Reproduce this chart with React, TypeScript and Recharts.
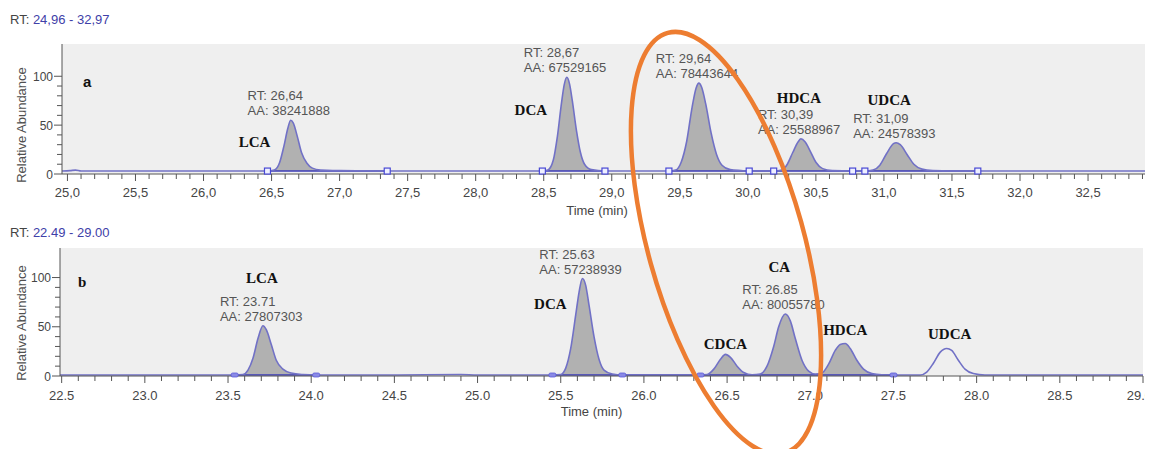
import { ComposedChart, Area, Line, XAxis, YAxis, CartesianGrid, ReferenceDot } from "recharts";

// Run a: RT window 24,96 - 32,97 min
const rtRangeA: [number, number] = [24.96, 32.97];
const traceA: [number, number][] = [
  [24.96, 3], [25.02, 3.5], [25.06, 4], [25.1, 3], [25.5, 3], [26.0, 3], [26.47, 3],
  [26.52, 4], [26.56, 12], [26.59, 28], [26.62, 47], [26.64, 55], [26.66, 52], [26.69, 38],
  [26.72, 22], [26.76, 11], [26.8, 6], [26.86, 4], [26.95, 3.5], [27.0, 3.5], [27.35, 3],
  [27.8, 3], [28.2, 3], [28.49, 3],
  [28.53, 4], [28.57, 14], [28.6, 38], [28.63, 72], [28.65, 91], [28.67, 99], [28.69, 92],
  [28.71, 75], [28.74, 45], [28.77, 22], [28.8, 10], [28.85, 4.5], [28.95, 3],
  [29.2, 3], [29.42, 3],
  [29.47, 4], [29.51, 12], [29.55, 33], [29.59, 68], [29.62, 88], [29.64, 93], [29.66, 89],
  [29.69, 72], [29.73, 42], [29.77, 20], [29.81, 9], [29.87, 4.5], [29.95, 3.5], [30.01, 3],
  [30.19, 3],
  [30.25, 4], [30.29, 10], [30.33, 22], [30.37, 33], [30.39, 36], [30.42, 33], [30.46, 23],
  [30.5, 12], [30.55, 5.5], [30.62, 3.5], [30.77, 3],
  [30.86, 3],
  [30.92, 4], [30.97, 9], [31.02, 21], [31.07, 31], [31.09, 32], [31.12, 30], [31.17, 20],
  [31.22, 10], [31.28, 5], [31.36, 3.5], [31.5, 3], [31.69, 3],
  [32.2, 3], [32.97, 3],
];
const integrationA: [number, number][] = [
  [26.47, 27.35], [28.49, 28.95], [29.42, 30.01], [30.19, 30.77], [30.86, 31.69],
];
const peakInfoA = [
  { rt: 26.64, aa: "38241888" },
  { rt: 28.67, aa: "67529165" },
  { rt: 29.64, aa: "78443644" },
  { rt: 30.39, aa: "25588967" },
  { rt: 31.09, aa: "24578393" },
];
const compoundsA = [
  { name: "LCA", rt: 26.64 },
  { name: "DCA", rt: 28.67 },
  { name: "HDCA", rt: 30.39 },
  { name: "UDCA", rt: 31.09 },
];
const timeTicksA = [25.0, 25.5, 26.0, 26.5, 27.0, 27.5, 28.0, 28.5, 29.0, 29.5, 30.0, 30.5, 31.0, 31.5, 32.0, 32.5];

// Run b: RT window 22.49 - 29.00 min
const rtRangeB: [number, number] = [22.49, 29.0];
const traceB: [number, number][] = [
  [22.49, 1], [23.0, 1], [23.54, 1],
  [23.59, 1.5], [23.62, 6], [23.65, 18], [23.68, 38], [23.71, 51], [23.73, 47], [23.76, 32],
  [23.79, 16], [23.83, 7], [23.88, 3], [23.95, 1.5], [24.03, 1],
  [24.5, 1], [24.9, 1.5], [25.0, 1], [25.45, 1],
  [25.5, 1.5], [25.53, 8], [25.56, 28], [25.59, 62], [25.61, 85], [25.63, 99], [25.65, 92],
  [25.67, 72], [25.7, 40], [25.73, 17], [25.76, 6], [25.81, 2], [25.87, 1],
  [26.34, 1],
  [26.38, 1.5], [26.42, 7], [26.46, 17], [26.49, 22], [26.52, 19], [26.56, 10], [26.6, 3.5], [26.65, 1.2],
  [26.7, 2], [26.74, 10], [26.78, 30], [26.81, 50], [26.85, 63], [26.88, 56], [26.91, 38],
  [26.95, 16], [26.99, 5], [27.03, 2],
  [27.07, 3], [27.11, 12], [27.15, 26], [27.18, 32], [27.21, 33], [27.24, 28], [27.28, 16],
  [27.32, 7], [27.37, 2.5], [27.43, 1.2], [27.5, 1],
  [27.66, 1], [27.7, 4], [27.74, 13], [27.78, 24], [27.82, 28], [27.85, 26], [27.89, 16],
  [27.93, 7], [27.98, 2.5], [28.05, 1],
  [28.5, 1], [29.0, 1],
];
const integrationB: [number, number][] = [[23.54, 24.03], [25.45, 25.87], [26.34, 27.5]];
const peakInfoB = [
  { rt: 23.71, aa: "27807303" },
  { rt: 25.63, aa: "57238939" },
  { rt: 26.85, aa: "80055780" },
];
const compoundsB = [
  { name: "LCA", rt: 23.71 },
  { name: "DCA", rt: 25.63 },
  { name: "CDCA", rt: 26.49 },
  { name: "CA", rt: 26.85 },
  { name: "HDCA", rt: 27.21 },
  { name: "UDCA", rt: 27.82 },
];
const timeTicksB = [22.5, 23.0, 23.5, 24.0, 24.5, 25.0, 25.5, 26.0, 26.5, 27.0, 27.5, 28.0, 28.5, 29.0];

const abundanceTicks = [0, 10, 20, 30, 40, 50, 60, 70, 80, 90, 100];
const abundanceLabels = [0, 50, 100];

const TRACE = "#7171c6";
const BASE = "#3c3cb8";
const PEAK_FILL = "#b1b1b1";
const PLOT_BG = "#efefef";
const SANS = '"Liberation Sans", Arial, sans-serif';
const SERIF = '"Liberation Serif", "Times New Roman", serif';
const WIDTH = 1153;

const fmt = (v: number, sep: string, digits: number) => v.toFixed(digits).replace(".", sep);

function minorTicks(from: number, to: number) {
  const out: number[] = [];
  for (let i = Math.round(from * 10); i <= Math.round(to * 10); i++) out.push(i / 10);
  return out;
}

const near = (a: number, b: number) => Math.abs(a - b) < 1e-6;

type PanelProps = {
  trace: [number, number][];
  integration: [number, number][];
  peakInfo: { rt: number; aa: string }[];
  compounds: { name: string; rt: number }[];
  majorTicks: number[];
  rtRange: [number, number];
  sep: string;
  baseline: number;
  yMax: number;
  height: number;
  margin: { top: number; right: number; bottom: number; left: number };
  axisWidth: number;
  nameOffsets: Record<string, [number, number]>;
  yLabelShift: number;
  xLabelDrop: number;
  xTickDrop: number;
  solidMarkers?: boolean;
};

function Chromatogram(p: PanelProps) {
  const inRange = (t: number) => p.integration.some(([s, e]) => t >= s - 1e-9 && t <= e + 1e-9);
  const rows = p.trace.map(([t, v]) => ({
    t,
    v,
    fill: inRange(t) ? v : null,
    base: inRange(t) ? p.baseline : null,
  }));
  const apex = (rt: number) => p.trace.find(([t]) => near(t, rt))?.[1] ?? 0;
  const markers = p.integration.flat();
  const xTicks = minorTicks(p.majorTicks[0], p.rtRange[1]);

  const XTick = (props: any) => {
    const { x, y, payload } = props;
    const major = p.majorTicks.some((m) => near(m, payload.value));
    // keep the last label inside the canvas
    const atEdge = x + 12 > WIDTH;
    return (
      <g>
        <line x1={x} x2={x} y1={y} y2={y + (major ? 7 : 5)} stroke="#555" strokeWidth={1} />
        {major && (
          <text
            x={atEdge ? WIDTH - 1 : x}
            y={y + p.xTickDrop}
            textAnchor={atEdge ? "end" : "middle"}
            fontSize={13}
            fontFamily={SANS}
            fill="#454545"
          >
            {fmt(payload.value, p.sep, 1)}
          </text>
        )}
      </g>
    );
  };

  const YTick = (props: any) => {
    const { x, y, payload } = props;
    const major = abundanceLabels.includes(payload.value);
    return (
      <g>
        <line x1={x - (major ? 8 : 5)} x2={x} y1={y} y2={y} stroke="#555" strokeWidth={1} />
        {major && (
          <text x={x - 9} y={y + 4.5} textAnchor="end" fontSize={12} fontFamily={SANS} fill="#454545">
            {payload.value}
          </text>
        )}
      </g>
    );
  };

  return (
    <ComposedChart width={WIDTH} height={p.height} data={rows} margin={p.margin}>
      <CartesianGrid fill={PLOT_BG} stroke="none" horizontal={false} vertical={false} />
      <XAxis
        type="number"
        dataKey="t"
        domain={p.rtRange}
        allowDataOverflow
        ticks={xTicks}
        interval={0}
        tickSize={0}
        tickMargin={0}
        tickLine={false}
        tick={XTick}
        height={40}
        axisLine={{ stroke: "#555" }}
        label={{
          content: (lp: any) => {
            const vb = lp.viewBox;
            return (
              <text x={vb.x + vb.width / 2 - 10} y={vb.y + p.xLabelDrop} textAnchor="middle" fontSize={13} fontFamily={SANS} fill="#454545">
                Time (min)
              </text>
            );
          },
        }}
      />
      <YAxis
        type="number"
        domain={[0, p.yMax]}
        allowDataOverflow
        ticks={abundanceTicks}
        interval={0}
        tickSize={0}
        tickMargin={0}
        tickLine={false}
        tick={YTick}
        width={p.axisWidth}
        axisLine={{ stroke: "#555" }}
        label={{
          content: (lp: any) => {
            const vb = lp.viewBox;
            const cx = 21;
            const cy = vb.y + vb.height / 2 + p.yLabelShift;
            return (
              <text x={cx} y={cy} transform={`rotate(-90 ${cx} ${cy})`} textAnchor="middle" dominantBaseline="central" fontSize={13} fontFamily={SANS} fill="#505050">
                Relative Abundance
              </text>
            );
          },
        }}
      />
      <Area
        dataKey="fill"
        type="monotone"
        baseValue={p.baseline}
        fill={PEAK_FILL}
        fillOpacity={1}
        stroke="none"
        connectNulls={false}
        isAnimationActive={false}
      />
      <Line dataKey="base" type="linear" stroke={BASE} strokeWidth={1.6} dot={false} connectNulls={false} isAnimationActive={false} />
      <Line dataKey="v" type="monotone" stroke={TRACE} strokeWidth={1.6} dot={false} isAnimationActive={false} />
      {markers.map((t, i) => (
        <ReferenceDot
          key={`m-${i}`}
          x={t}
          y={p.baseline}
          r={3}
          shape={(s: any) =>
            p.solidMarkers ? (
              <rect x={s.cx - 3.5} y={s.cy - 2} width={7} height={4} rx={1.5} fill="#8a8ae6" stroke="#5a5ad8" strokeWidth={0.8} />
            ) : (
              <rect x={s.cx - 3} y={s.cy - 3} width={6} height={6} fill="#eef0ff" stroke="#4848d4" strokeWidth={1.2} />
            )
          }
        />
      ))}
      {p.peakInfo.map((pk) => (
        <ReferenceDot
          key={`rt-${pk.rt}`}
          x={pk.rt}
          y={apex(pk.rt)}
          r={0}
          shape={(s: any) => (
            <g fontFamily={SANS} fontSize={13} fill="#555">
              <text x={s.cx - 43} y={s.cy - 20}>{`RT: ${fmt(pk.rt, p.sep, 2)}`}</text>
              <text x={s.cx - 43} y={s.cy - 5}>{`AA: ${pk.aa}`}</text>
            </g>
          )}
        />
      ))}
      {p.compounds.map((c) => {
        const [dx, dy] = p.nameOffsets[c.name] ?? [0, -20];
        return (
          <ReferenceDot
            key={`n-${c.name}`}
            x={c.rt}
            y={apex(c.rt)}
            r={0}
            shape={(s: any) => (
              <text x={s.cx + dx} y={s.cy + dy + 5} textAnchor="middle" fontFamily={SERIF} fontWeight="bold" fontSize={15} fill="#111">
                {c.name}
              </text>
            )}
          />
        );
      })}
    </ComposedChart>
  );
}

const nameOffsetsA: Record<string, [number, number]> = {
  LCA: [-36, 22],
  DCA: [-36, 33],
  HDCA: [-2, -41],
  UDCA: [-7, -43],
};
const nameOffsetsB: Record<string, [number, number]> = {
  LCA: [-1, -48],
  DCA: [-32, 25],
  CDCA: [0, -10],
  CA: [-6, -47],
  HDCA: [0, -14],
  UDCA: [3, -14],
};

function RangeHeader({ range, sep, top }: { range: [number, number]; sep: string; top: number }) {
  return (
    <div style={{ position: "absolute", left: 10, top, fontSize: 13, lineHeight: "15px", color: "#444", fontFamily: SANS }}>
      RT: <span style={{ color: "#4040a8" }}>{`${fmt(range[0], sep, 2)} - ${fmt(range[1], sep, 2)}`}</span>
    </div>
  );
}

export default function App() {
  return (
    <div
      style={{
        position: "relative",
        width: WIDTH,
        height: 457,
        margin: -8,
        background: "#fff",
        overflow: "hidden",
        fontFamily: SANS,
      }}
    >
      <div style={{ position: "absolute", left: 0, top: 0 }}>
        <Chromatogram
          trace={traceA}
          integration={integrationA}
          peakInfo={peakInfoA}
          compounds={compoundsA}
          majorTicks={timeTicksA}
          rtRange={rtRangeA}
          sep=","
          baseline={3}
          yMax={133}
          height={230}
          margin={{ top: 44, right: 1, bottom: 16, left: 0 }}
          axisWidth={62}
          nameOffsets={nameOffsetsA}
          yLabelShift={16}
          xLabelDrop={41}
          xTickDrop={23}
        />
      </div>
      <div style={{ position: "absolute", left: 0, top: 200 }}>
        <Chromatogram
          trace={traceB}
          integration={integrationB}
          peakInfo={peakInfoB}
          compounds={compoundsB}
          majorTicks={timeTicksB}
          rtRange={rtRangeB}
          sep="."
          baseline={1}
          yMax={130}
          height={257}
          margin={{ top: 48, right: 10, bottom: 41, left: 0 }}
          axisWidth={60}
          nameOffsets={nameOffsetsB}
          yLabelShift={11}
          xLabelDrop={40}
          xTickDrop={24}
          solidMarkers
        />
      </div>
      <RangeHeader range={rtRangeA} sep="," top={12} />
      <RangeHeader range={rtRangeB} sep="." top={225} />
      <div style={{ position: "absolute", left: 83, top: 74, fontSize: 15, lineHeight: "15px", fontWeight: "bold", fontFamily: SANS, color: "#111" }}>a</div>
      <div style={{ position: "absolute", left: 78, top: 275, fontSize: 15, lineHeight: "15px", fontWeight: "bold", fontFamily: SERIF, color: "#111" }}>b</div>
      <svg width={WIDTH} height={457} style={{ position: "absolute", left: 0, top: 0, pointerEvents: "none" }}>
        <ellipse cx={726} cy={243} rx={78} ry={218} transform="rotate(-15.5 726 243)" fill="none" stroke="#ED7D31" strokeWidth={4.5} />
      </svg>
    </div>
  );
}
